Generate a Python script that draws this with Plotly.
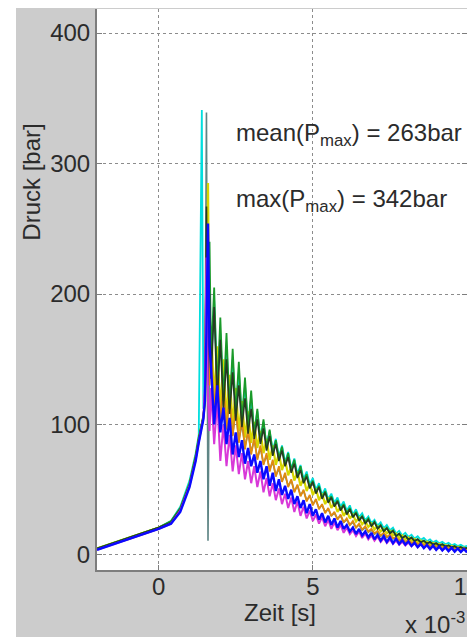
import plotly.graph_objects as go

# Zeit in 10^-3 s
zeit_ms = [-2.0, -1.0, 0.0, 0.4, 0.7, 1.0, 1.2, 1.3, 1.4, 1.45, 1.5, 1.55, 1.6, 1.65,
           1.7, 1.8, 1.9, 2.0, 2.1, 2.2, 2.3, 2.4, 2.5, 2.6,
           2.7, 2.8, 2.9, 3.0, 3.1, 3.2, 3.3, 3.4, 3.5, 3.6,
           3.7, 3.8, 3.9, 4.0, 4.1, 4.2, 4.3, 4.4, 4.5, 4.6,
           4.7, 4.8, 4.9, 5.0, 5.1, 5.2, 5.3, 5.4, 5.5, 5.6,
           5.7, 5.8, 5.9, 6.0, 6.1, 6.2, 6.3, 6.4, 6.5, 6.6,
           6.7, 6.8, 6.9, 7.0, 7.1, 7.2, 7.3, 7.4, 7.5, 7.6,
           7.7, 7.8, 7.9, 8.0, 8.1, 8.2, 8.3, 8.4, 8.5, 8.6,
           8.7, 8.8, 8.9, 9.0, 9.1, 9.2, 9.3, 9.4, 9.5, 9.6,
           9.7, 9.8, 9.9, 10.0]

druck_grau = [5, 13, 21, 25, 35, 54, 75, 89, 100, 106, 120, 339, 11, 175,
              150, 112, 140, 104, 128, 98, 118, 92, 110, 88,
              100, 83, 94, 79, 88, 74, 82, 70, 76, 66,
              71, 61, 66, 57, 61, 53, 57, 49, 53, 46,
              49, 42, 45, 39, 42, 36, 38, 33, 35, 30,
              32, 28, 30, 25, 27, 23, 25, 21, 23, 19,
              21, 17.5, 19, 16, 17.5, 14.5, 16, 13.5, 14.8, 12.3,
              13.5, 11, 12.3, 10, 11.3, 9.1, 10.3, 8.3, 9.4, 7.6,
              8.5, 6.9, 7.8, 6.3, 7.2, 5.7, 6.6, 5.2, 6, 4.7,
              5.5, 4.3, 5, 3.9]

druck_cyan = [5, 13, 21, 26, 37, 57, 78, 92, 341, 112, 135, 220, 150, 180,
              145, 195, 128, 170, 120, 160, 115, 150, 110, 140,
              104, 130, 99, 120, 94, 110, 89, 102, 84, 95,
              80, 89, 75, 84, 71, 79, 66, 74, 62, 69,
              58, 64, 54, 59, 50, 55, 46, 51, 43, 47,
              40, 44, 37, 41, 34, 38, 31, 35, 29, 32,
              26.5, 29.5, 24.5, 27, 22.5, 25, 20.5, 23, 19, 21,
              16.5, 18.5, 15, 17, 13.8, 15.6, 12.6, 14.3, 11.6, 13.1,
              10.6, 12, 9.7, 11, 8.9, 10.1, 8.2, 9.3, 7.5, 8.5,
              6.9, 7.8, 6.3, 7.1]

druck_gelb = [5, 13, 21, 25, 35, 54, 75, 89, 100, 106, 115, 150, 285, 140,
              175, 120, 160, 110, 150, 104, 138, 100, 128, 95,
              118, 90, 110, 86, 102, 82, 95, 78, 89, 73,
              84, 69, 78, 65, 73, 61, 68, 57, 64, 53,
              59, 49, 55, 46, 51, 42, 47, 39, 44, 36,
              40, 33, 37, 30, 34, 28, 31, 25.5, 28.5, 23.5,
              26, 21.5, 24, 19.5, 22, 18, 20, 16.5, 18.5, 15,
              16.5, 13, 15, 12, 13.5, 11, 12.4, 10, 11.3, 9,
              10.2, 8.2, 9.3, 7.4, 8.5, 6.7, 7.7, 6, 7, 5.4,
              6.3, 4.8, 5.7, 4.3]

druck_orange = [5, 12, 20, 25, 34, 53, 74, 88, 99, 105, 122, 240, 150, 130,
                160, 110, 145, 102, 132, 96, 122, 91, 113, 86,
                104, 81, 96, 77, 90, 73, 84, 69, 78, 64,
                73, 60, 68, 56, 63, 52, 58, 48, 54, 45,
                50, 41, 46, 38, 43, 35, 39, 32, 36, 30,
                33, 27, 31, 25, 28, 23, 26, 21, 24, 19.5,
                22, 18, 20, 16.5, 18.5, 15, 17, 14, 15.5, 12.8,
                13.8, 11, 12.6, 10, 11.5, 9.1, 10.5, 8.3, 9.6, 7.6,
                8.7, 6.9, 8, 6.3, 7.3, 5.7, 6.7, 5.2, 6.1, 4.7,
                5.6, 4.3, 5.1, 3.9]

druck_gruen = [5, 13, 21, 26, 36, 55, 76, 90, 101, 107, 118, 200, 160, 240,
               150, 205, 125, 182, 118, 170, 112, 158, 108, 148,
               102, 136, 97, 126, 92, 112, 87, 104, 82, 96,
               78, 88, 74, 83, 69, 78, 65, 73, 60, 68,
               56, 62, 52, 57, 48, 53, 44, 49, 41, 45,
               38, 42, 35, 39, 32, 36, 29, 33, 27, 30,
               25, 28, 22.5, 25.5, 20.5, 23, 18.5, 21, 17, 19,
               14.5, 16.3, 13, 14.8, 11.8, 13.4, 10.7, 12.2, 9.7, 11.1,
               8.8, 10, 8, 9.1, 7.2, 8.3, 6.5, 7.5, 5.9, 6.8,
               5.3, 6.2, 4.8, 5.5]

druck_dunkel = [5, 13, 21, 25, 35, 54, 75, 89, 100, 106, 125, 267, 130, 200,
                135, 190, 118, 165, 112, 150, 108, 140, 103, 130,
                98, 120, 93, 112, 89, 104, 85, 97, 80, 91,
                76, 85, 72, 80, 68, 75, 63, 70, 59, 65,
                55, 60, 51, 56, 47, 52, 43, 48, 40, 44,
                37, 41, 34, 38, 31, 35, 29, 32, 26, 29.5,
                24, 27, 22, 25, 20, 22.5, 18, 20.5, 16.5, 18.5,
                14.5, 16.3, 13, 14.7, 11.8, 13.3, 10.7, 12, 9.7, 11,
                8.8, 10, 8, 9, 7.2, 8.2, 6.5, 7.4, 5.9, 6.7,
                5.3, 6.1, 4.8, 5.5]

druck_magenta = [4, 12, 20, 24, 34, 53, 73, 87, 99, 105, 130, 228, 118, 95,
                 128, 85, 118, 72, 100, 68, 92, 64, 84, 62,
                 78, 58, 72, 55, 68, 52, 64, 48, 59, 45,
                 55, 42, 51, 39, 47, 36, 44, 33, 41, 30,
                 37, 28, 34, 26, 31, 24, 29, 22, 27, 20,
                 25, 19, 23, 17, 21, 16, 19, 14.5, 18, 13,
                 16.5, 12, 15, 11, 14, 10, 13, 9.2, 12, 8.5,
                 11, 7.8, 10.2, 7.2, 9.5, 6.6, 8.9, 6, 8.3, 5.5,
                 7.2, 4.4, 6.7, 4, 6.2, 3.6, 5.8, 3.2, 5.4, 2.9,
                 5, 2.6, 4.7, 2.3]

druck_blau = [4, 12, 20, 24, 33, 52, 72, 86, 98, 104, 118, 170, 254, 160,
              143, 100, 130, 94, 113, 85, 105, 77, 94, 75,
              88, 70, 82, 68, 77, 63, 72, 58, 68, 53,
              63, 49, 58, 46, 53, 43, 50, 39, 45, 36,
              42, 32, 39, 30, 35, 27, 32, 25, 30, 23,
              28, 21, 26, 20, 23, 18, 21, 16, 20, 15,
              18, 13.5, 17, 12, 15.5, 11, 14.5, 10, 13.5, 9,
              12.5, 8.5, 11.5, 8, 10.5, 7, 9.5, 6, 8.5, 5.2,
              7.8, 4.6, 7.2, 4, 6.6, 3.5, 6, 3, 5.5, 2.6,
              5, 2.3, 4.6, 2]

serien = [
    ("grau", druck_grau, "#5f8585", 1.6),
    ("cyan", druck_cyan, "#00dede", 1.8),
    ("gelb", druck_gelb, "#d6d600", 2.2),
    ("orange", druck_orange, "#e08a10", 1.8),
    ("gruen", druck_gruen, "#1a9a2a", 1.8),
    ("dunkel", druck_dunkel, "#263a22", 1.6),
    ("magenta", druck_magenta, "#d838d8", 2.0),
    ("blau", druck_blau, "#0a0aff", 2.4),
]

mean_text = "mean(P<sub>max</sub>) = 263bar"
max_text = "max(P<sub>max</sub>) = 342bar"

fig = go.Figure()
for name, vals, col, w in serien:
    assert len(vals) == len(zeit_ms), name
    fig.add_trace(go.Scatter(x=zeit_ms, y=vals, mode="lines", name=name,
                             line=dict(color=col, width=w), showlegend=False,
                             hoverinfo="skip"))

font = "Liberation Sans, Arial, sans-serif"
txtc = "#2b2b2b"
axc = "#7d7d7d"

fig.update_layout(
    width=467, height=629,
    margin=dict(l=89, r=8, t=1, b=67, autoexpand=False),
    paper_bgcolor="#cccccc",
    plot_bgcolor="#ffffff",
    font=dict(family=font, size=24, color=txtc),
    xaxis=dict(range=[-2, 10], tickmode="array", tickvals=[0, 5, 10],
               ticktext=["0", "5", "10"], automargin=False,
               ticklabeloverflow="allow", ticklabelstandoff=-6,
               showgrid=True, gridcolor="#8c8c8c", griddash="dot", gridwidth=1,
               zeroline=False, showline=True, linecolor=axc, linewidth=2,
               mirror=False, ticks="inside", ticklen=5, tickcolor=axc,
               tickfont=dict(size=24, color=txtc)),
    yaxis=dict(range=[-11.5, 418.4], tickmode="array",
               tickvals=[0, 100, 200, 300, 400], automargin=False,
               showgrid=True, gridcolor="#8c8c8c", griddash="dot", gridwidth=1,
               zeroline=False, showline=True, linecolor=axc, linewidth=2,
               mirror="ticks", ticks="inside", ticklen=5, tickcolor=axc,
               tickfont=dict(size=24, color=txtc)),
    shapes=[
        dict(type="rect", xref="paper", yref="paper", x0=-0.3, x1=-0.2189,
             y0=-0.2, y1=1.1, fillcolor="#ffffff", line=dict(width=0), layer="above"),
    ],
    annotations=[
        dict(text="Druck [bar]", xref="paper", yref="paper", x=-0.176, y=0.692,
             textangle=-90, showarrow=False, xanchor="center", yanchor="middle",
             font=dict(size=24, color=txtc)),
        dict(text="Zeit [s]", xref="paper", yref="paper", x=0.4946, y=-0.0766,
             showarrow=False, xanchor="center", yanchor="middle",
             font=dict(size=24, color=txtc)),
        dict(text="x 10<sup>-3</sup>", xref="paper", yref="paper", x=0.828, y=-0.094,
             showarrow=False, xanchor="left", yanchor="middle",
             font=dict(size=24, color=txtc)),
        dict(text=mean_text, xref="x", yref="y", x=2.45, y=322.5,
             showarrow=False, xanchor="left", yanchor="middle",
             font=dict(size=24, color=txtc)),
        dict(text=max_text, xref="x", yref="y", x=2.45, y=272,
             showarrow=False, xanchor="left", yanchor="middle",
             font=dict(size=24, color=txtc)),
    ],
)

fig.write_html("out.html")
